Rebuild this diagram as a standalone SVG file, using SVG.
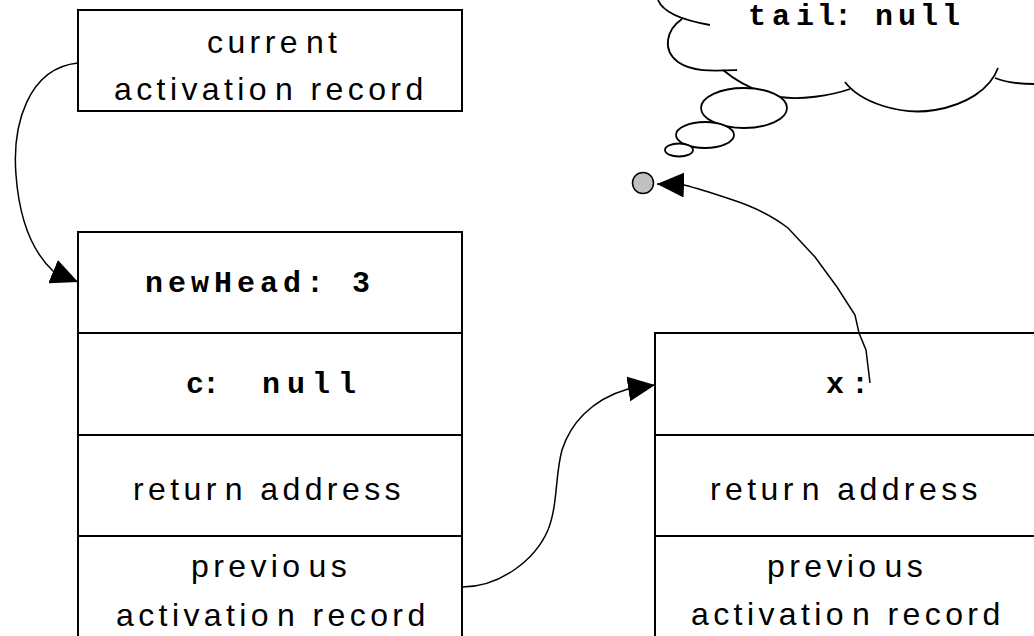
<svg xmlns="http://www.w3.org/2000/svg" width="1034" height="636" viewBox="0 0 1034 636">
<style>
.box{fill:#fff;stroke:#000;stroke-width:2}
.div{stroke:#000;stroke-width:2}
.sans{font-family:"Liberation Sans",Arial,sans-serif;font-size:32px;letter-spacing:4.4px;fill:#000}
.mono{font-family:"Liberation Mono","Courier New",monospace;font-size:30px;font-weight:bold;fill:#000}
.conn{fill:none;stroke:#000;stroke-width:1.5}
.cloud{fill:none;stroke:#000;stroke-width:1.8}
.bub{fill:#fff;stroke:#000;stroke-width:1.8}
</style>
<defs>
<marker id="arr" viewBox="0 0 27 25" refX="27" refY="12.5" markerWidth="27" markerHeight="25" markerUnits="userSpaceOnUse" orient="auto">
<path d="M0,0 L27,12.5 L0,25 z" fill="#000"/>
</marker>
</defs>
<rect width="1034" height="636" fill="#fff"/>

<g id="cloud">
<path class="cloud" d="M658,0 C662,10 675,19 710,25"/>
<path class="cloud" d="M682,19 C666,30 662,50 678,62 C692,72 712,71 737,70"/>
<path class="cloud" d="M723,70 C735,80 755,92 780,97 C800,100 830,96 850,89"/>
<path class="cloud" d="M845,82 C860,102 900,116 935,110 C965,105 990,90 998,68"/>
<path class="cloud" d="M995,78 C1005,82 1020,84 1034,84"/>
<ellipse class="bub" cx="744" cy="108" rx="43" ry="20"/>
<ellipse class="bub" cx="705" cy="135" rx="29" ry="13"/>
<ellipse class="bub" cx="679" cy="150" rx="14" ry="6.5"/>
<text class="mono" x="748 772 796 817 834 853 875 898 920 942" y="25">tail: null</text>
</g>

<g id="current">
<rect class="box" x="78" y="10" width="384" height="101"/>
<text class="sans" x="207" y="53">curre<tspan dx="4">nt</tspan></text>
<text class="sans" x="114" y="100">activatio<tspan dx="4">n record</tspan></text>
</g>

<g id="frame1">
<rect class="box" x="78" y="232" width="384" height="420"/>
<line class="div" x1="78" y1="333" x2="462" y2="333"/>
<line class="div" x1="78" y1="435" x2="462" y2="435"/>
<line class="div" x1="78" y1="536" x2="462" y2="536"/>
<text class="mono" x="145" y="292" style="letter-spacing:5px">newHead:  3</text>
<text class="mono" x="186 202 222 262 287 312 338" y="393">c: null</text>
<text class="sans" x="133" y="500">retur<tspan dx="4">n address</tspan></text>
<text class="sans" x="191" y="577">previo<tspan dx="4">us</tspan></text>
<text class="sans" x="116" y="626">activatio<tspan dx="4">n record</tspan></text>
</g>

<g id="frame2">
<rect class="box" x="655" y="333" width="400" height="320"/>
<line class="div" x1="655" y1="435" x2="1040" y2="435"/>
<line class="div" x1="655" y1="536" x2="1040" y2="536"/>
<text class="mono" x="826 851" y="393">x:</text>
<text class="sans" x="710" y="500">retur<tspan dx="4">n address</tspan></text>
<text class="sans" x="767" y="577">previo<tspan dx="4">us</tspan></text>
<text class="sans" x="691" y="625">activatio<tspan dx="4">n record</tspan></text>
</g>

<g id="null-dot">
<circle cx="643" cy="183" r="10.5" fill="#c0c0c0" stroke="#000" stroke-width="1.5"/>
</g>

<g id="connectors">
<path class="conn" marker-end="url(#arr)" d="M78,63 C28,68 12,125 16,175 C19,215 30,250 54,272 L78,282"/>
<path class="conn" marker-end="url(#arr)" d="M462,587 C500,587 535,560 548,530 C558,505 555,475 562,450 C570,425 590,400 628,389 L655,385"/>
<path class="conn" marker-end="url(#arr)" d="M870,383 L866,350 L859,333 L855,315 L837,287 L815,257 L788,228 C770,214 752,206 730,199 C715,194 700,189 684,185 L657,184"/>
</g>
</svg>
